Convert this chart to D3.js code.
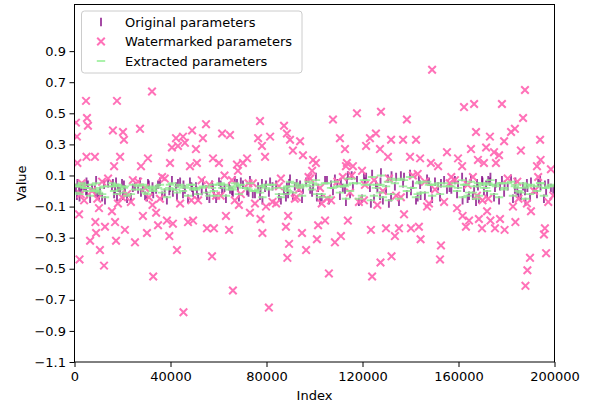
<!DOCTYPE html>
<html>
<head>
<meta charset="utf-8">
<script src="https://cdn.jsdelivr.net/npm/d3@7"></script>
<style>
  body { margin: 0; background: #fff; }
  text { font-family: "DejaVu Sans", sans-serif; }
</style>
</head>
<body>
<svg id="chart" width="595" height="406"></svg>
<script>
// Sampled parameter positions
const indices = [
  600, 1000, 1200, 1900, 2100, 4000, 4800, 5000, 5200, 5600,
  6500, 7300, 8500, 8700, 9000, 10200, 10600, 12300, 12700, 15600,
  16000, 16500, 16900, 17300, 17700, 18100, 19000, 20200, 20600, 21000,
  21900, 25200, 27300, 27700, 28500, 30200, 30600, 32300, 32500, 32800,
  34000, 34800, 38500, 39800, 40600, 41000, 42300, 42700, 43100, 39500,
  45200, 45400, 46000, 47300, 48100, 49000, 49400, 50600, 51000, 51500,
  53500, 54800, 55200, 57300, 57700, 58100, 60200, 61500, 63100, 64400,
  64800, 66000, 67700, 68100, 68500, 70200, 71900, 73100, 75200, 76500,
  77300, 77500, 78100, 78300, 79400, 79800, 81000, 81500, 87300, 88100,
  88500, 88700, 89000, 89400, 89800, 91000, 93500, 94000, 94800, 95200,
  96500, 99000, 99400, 100600, 101000, 101500, 104400, 106000, 106900, 107700,
  108500, 110600, 111000, 112700, 113100, 113500, 113900, 114800, 116000, 117700,
  119800, 121500, 123100, 123500, 124000, 125600, 127300, 127500, 127700, 128500,
  129800, 130600, 131900, 132100, 133500, 135200, 136900, 137300, 138500, 139800,
  140200, 142300, 143500, 144000, 144200, 146900, 148500, 149000, 150200, 151500,
  152300, 152700, 155200, 158500, 159400, 159800, 161500, 161700, 162300, 163100,
  164400, 165200, 166500, 167300, 167700, 168100, 168500, 169800, 170600, 171500,
  171900, 173100, 173300, 174800, 175200, 175600, 176900, 177300, 178100, 179000,
  179200, 181900, 182700, 183500, 183700, 186000, 186900, 187700, 187900, 188500,
  188700, 189800, 190200, 191500, 192700, 194000, 194200, 195600, 196000, 196500,
  198500,
  3000, 9500, 14000, 23500, 26500, 31000, 36500, 44000, 53000, 59000,
  62500, 66800, 72500, 84000, 86000, 91800, 97500, 103000, 109500, 115500,
  118500, 121000, 126200, 131000, 134000, 141000, 146000, 154000, 157000, 163800,
  170000, 180500, 185000, 193200, 199500,
  2600, 11500, 19800, 24300, 29400, 35600, 37600, 48700, 56200, 60900,
  65600, 69300, 74300, 82500, 85200, 92600, 98200, 102300, 105200, 111800,
  120600, 124800, 136000, 143000, 147700, 156300, 166000, 172400, 184500, 197400
];

const original = [
  0.02, -0.03, 0.05, 0.01, -0.04, 0.03, 0.00, 0.06, -0.02, 0.04,
  -0.05, 0.02, 0.01, -0.01, 0.07, -0.03, 0.00, 0.04, -0.06, 0.03,
  0.05, -0.02, 0.01, 0.06, -0.04, 0.02, 0.00, -0.03, 0.04, 0.01,
  -0.05, 0.03, 0.06, -0.01, 0.02, -0.04, 0.05, 0.00, 0.03, -0.02,
  0.01, 0.04, -0.06, 0.02, 0.07, -0.01, 0.03, -0.03, 0.05, 0.00,
  -0.02, 0.04, 0.01, -0.05, 0.06, 0.02, -0.01, 0.03, 0.00, -0.04,
  0.05, 0.01, -0.03, 0.04, 0.02, -0.02, 0.06, 0.00, -0.05, 0.03,
  0.01, -0.01, 0.05, 0.02, -0.04, 0.04, 0.00, 0.07, -0.02, 0.03,
  -0.03, 0.01, 0.05, -0.06, 0.02, 0.04, -0.01, 0.06, 0.00, -0.04,
  0.03, 0.01, -0.02, 0.05, 0.08, -0.03, 0.02, 0.04, -0.05, 0.01,
  0.06, -0.01, 0.03, 0.09, -0.04, 0.02, 0.07, -0.06, 0.04, 0.00,
  0.08, -0.03, 0.05, 0.01, -0.07, 0.06, 0.10, -0.02, 0.03, 0.07,
  -0.05, 0.09, 0.02, -0.08, 0.11, 0.04, -0.03, 0.06, 0.12, -0.06,
  0.01, 0.08, -0.04, 0.10, 0.03, -0.07, 0.05, 0.09, -0.02, 0.11,
  0.00, -0.06, 0.07, 0.04, -0.03, 0.08, 0.02, -0.05, 0.06, 0.03,
  -0.04, 0.05, 0.01, 0.07, -0.02, 0.04, 0.09, -0.06, 0.02, 0.06,
  -0.03, 0.08, 0.01, -0.07, 0.05, 0.03, -0.05, 0.07, 0.00, 0.04,
  -0.02, 0.06, 0.09, -0.04, 0.02, 0.05, -0.06, 0.03, 0.07, -0.01,
  0.04, 0.08, -0.05, 0.01, 0.06, -0.03, 0.03, 0.00, -0.07, 0.05,
  0.02, -0.04, 0.06, 0.01, -0.02, 0.07, 0.03, -0.05, 0.04, 0.00,
  0.02,
  0.03, -0.02, 0.05, -0.04, 0.01, 0.04, -0.03, 0.06, 0.00, -0.05,
  0.02, 0.07, -0.01, 0.04, -0.06, 0.03, 0.08, -0.04, 0.05, 0.10,
  -0.07, 0.06, 0.02, -0.08, 0.09, 0.04, -0.03, 0.07, 0.01, -0.05,
  0.06, 0.03, -0.02, 0.05, 0.01,
  0.01, -0.04, 0.05, 0.02, -0.03, 0.06, -0.01, 0.03, -0.05, 0.04,
  0.00, 0.06, -0.02, 0.03, -0.04, 0.05, 0.01, -0.06, 0.07, 0.02,
  0.09, -0.05, 0.10, -0.04, 0.06, 0.02, -0.03, 0.07, 0.00, 0.05
];

const watermarked = [
  0.44, 0.35, 0.18, -0.15, -0.44, -0.06, 0.58, 0.22, 0.47, 0.42,
  -0.32, 0.00, 0.22, -0.20, -0.27, -0.11, -0.38, -0.48, -0.23, -0.13,
  0.39, 0.16, -0.20, -0.32, 0.58, -0.08, 0.22, 0.38, 0.33, -0.25,
  -0.02, -0.33, 0.40, 0.16, -0.16, -0.27, 0.21, 0.64, -0.09, -0.55,
  -0.14, -0.22, -0.19, 0.18, 0.28, -0.21, 0.34, -0.38, 0.29, -0.29,
  0.35, -0.78, 0.31, -0.20, 0.16, 0.39, -0.19, 0.27, 0.18, -0.06,
  0.34, 0.43, -0.24, -0.42, 0.21, -0.24, 0.18, 0.37, -0.16, -0.25,
  0.36, -0.64, 0.17, 0.13, -0.09, 0.18, 0.21, -0.14, -0.08, 0.34,
  0.45, -0.18, 0.29, -0.27, 0.22, -0.10, -0.75, 0.35, 0.42, -0.23,
  0.37, -0.43, -0.16, -0.34, 0.33, 0.26, 0.01, 0.32, -0.27, 0.23,
  -0.38, 0.13, 0.20, 0.18, -0.31, -0.22, -0.19, -0.53, -0.06, 0.46,
  -0.33, 0.34, -0.29, 0.27, 0.16, 0.18, -0.19, -0.01, 0.16, 0.50,
  0.13, 0.29, 0.34, -0.25, -0.55, 0.37, 0.27, -0.46, 0.51, 0.00,
  -0.24, 0.22, 0.33, -0.42, -0.29, -0.24, 0.33, -0.15, 0.46, 0.22,
  -0.24, 0.33, -0.23, 0.21, -0.31, -0.10, 0.18, 0.78, 0.01, 0.16,
  -0.44, -0.35, 0.25, 0.07, -0.11, 0.21, 0.16, -0.16, 0.54, -0.23,
  -0.19, 0.27, 0.56, 0.38, -0.03, 0.20, -0.18, -0.24, 0.18, 0.28,
  -0.13, 0.35, -0.19, 0.25, -0.24, 0.18, 0.23, -0.18, 0.56, 0.32,
  -0.25, 0.38, -0.10, 0.40, -0.20, 0.26, 0.47, 0.65, -0.61, -0.08,
  -0.51, -0.43, -0.13, 0.00, 0.16, 0.33, 0.20, -0.28, -0.24, -0.40,
  0.14,
  0.05, -0.05, 0.08, -0.07, 0.06, -0.04, 0.09, -0.08, 0.07, -0.03,
  0.10, -0.06, 0.05, -0.08, 0.08, -0.05, 0.09, -0.08, 0.06, 0.10,
  -0.07, 0.04, -0.09, 0.08, -0.03, 0.10, 0.06, -0.07, 0.09, 0.04,
  -0.06, 0.08, -0.05, 0.09, -0.03,
  -0.02, 0.06, -0.04, 0.07, 0.02, -0.05, 0.08, -0.06, 0.04, -0.03,
  0.07, -0.02, 0.05, -0.07, 0.03, -0.04, 0.08, 0.02, -0.05, 0.09,
  -0.06, 0.07, -0.04, 0.11, -0.08, 0.05, 0.09, -0.05, 0.06, -0.07
];

const extracted = [
  0.03, -0.01, 0.04, 0.03, -0.02, 0.02, 0.02, 0.04, 0.00, 0.02,
  -0.03, 0.04, 0.00, 0.01, 0.05, -0.01, 0.02, 0.03, -0.04, 0.05,
  0.03, 0.00, 0.03, 0.04, -0.02, 0.04, 0.01, -0.01, 0.02, 0.03,
  -0.03, 0.01, 0.04, 0.01, 0.04, -0.02, 0.03, 0.02, 0.01, 0.00,
  0.03, 0.02, -0.04, 0.04, 0.05, 0.01, 0.01, -0.01, 0.03, 0.02,
  0.00, 0.02, 0.03, -0.03, 0.04, 0.04, 0.01, 0.01, 0.02, -0.02,
  0.03, 0.03, -0.01, 0.02, 0.04, 0.00, 0.04, 0.02, -0.03, 0.01,
  0.03, 0.01, 0.03, 0.04, -0.02, 0.02, 0.02, 0.05, 0.00, 0.01,
  -0.01, 0.03, 0.03, -0.04, 0.04, 0.02, 0.01, 0.04, 0.02, -0.02,
  0.01, 0.03, 0.00, 0.03, 0.06, -0.01, 0.04, 0.02, -0.03, 0.03,
  0.04, 0.01, 0.05, 0.07, -0.02, 0.04, 0.05, -0.04, 0.02, 0.02,
  0.06, -0.01, 0.03, 0.03, -0.05, 0.04, 0.08, 0.00, 0.05, 0.05,
  -0.03, 0.07, 0.04, -0.06, 0.09, 0.02, -0.01, 0.04, 0.10, -0.04,
  0.03, 0.06, -0.02, 0.08, 0.05, -0.05, 0.03, 0.07, 0.00, 0.09,
  0.02, -0.04, 0.05, 0.06, -0.01, 0.06, 0.04, -0.03, 0.04, 0.05,
  -0.02, 0.03, 0.03, 0.05, 0.00, 0.02, 0.07, -0.04, 0.04, 0.04,
  -0.01, 0.06, 0.03, -0.05, 0.03, 0.05, -0.03, 0.05, 0.02, 0.02,
  0.00, 0.04, 0.07, -0.02, 0.04, 0.03, -0.04, 0.05, 0.05, 0.01,
  0.02, 0.06, -0.03, 0.03, 0.04, -0.01, 0.05, 0.02, -0.05, 0.03,
  0.04, -0.02, 0.04, 0.03, 0.00, 0.05, 0.05, -0.03, 0.02, 0.02,
  0.04,
  0.05, 0.00, 0.03, -0.02, 0.03, 0.02, -0.01, 0.04, 0.02, -0.03,
  0.04, 0.05, 0.01, 0.02, -0.04, 0.05, 0.06, -0.02, 0.03, 0.08,
  -0.05, 0.04, 0.04, -0.06, 0.07, 0.02, -0.01, 0.05, 0.03, -0.03,
  0.04, 0.05, 0.00, 0.03, 0.03,
  0.03, -0.02, 0.03, 0.04, -0.01, 0.04, 0.01, 0.02, -0.03, 0.05,
  0.02, 0.04, 0.00, 0.04, -0.02, 0.03, 0.03, -0.04, 0.05, 0.03,
  0.07, -0.03, 0.08, -0.02, 0.04, 0.03, -0.01, 0.05, 0.02, 0.03
];

const xTicks = [0, 40000, 80000, 120000, 160000, 200000];
const yTicks = [-1.1, -0.9, -0.7, -0.5, -0.3, -0.1, 0.1, 0.3, 0.5, 0.7, 0.9];
const seriesNames = ["Original parameters", "Watermarked parameters", "Extracted parameters"];

const svg = d3.select("#chart");
const plot = { left: 74.5, right: 554.5, top: 4.5, bottom: 362 };

const x = d3.scaleLinear().domain([0, 200000]).range([plot.left, plot.right]);
const y = d3.scaleLinear().domain([-1.1, 1.2]).range([plot.bottom, plot.top]);

svg.append("defs").append("clipPath").attr("id", "plot-clip")
  .append("rect")
  .attr("x", plot.left).attr("y", plot.top)
  .attr("width", plot.right - plot.left).attr("height", plot.bottom - plot.top);

const colors = {
  original: "purple",
  watermarked: "#ff69b4",
  extracted: "#90ee90"
};
const m = 4.2; // half marker size in px

const data = indices.map((idx, i) => ({
  idx, o: original[i], w: watermarked[i], e: extracted[i]
}));

const marks = svg.append("g").attr("clip-path", "url(#plot-clip)");

// Original values: vertical ticks
marks.append("g").selectAll("line").data(data).join("line")
  .attr("x1", d => x(d.idx)).attr("x2", d => x(d.idx))
  .attr("y1", d => y(d.o) - m).attr("y2", d => y(d.o) + m)
  .attr("stroke", colors.original).attr("stroke-opacity", 0.75)
  .attr("stroke-width", 1.9);

// Watermarked values: x markers
const k = m * 0.9;
const xPath = `M${-k},${-k}L${k},${k}M${-k},${k}L${k},${-k}`;
marks.append("g").selectAll("path").data(data).join("path")
  .attr("transform", d => `translate(${x(d.idx)},${y(d.w)})`)
  .attr("d", xPath)
  .attr("fill", "none")
  .attr("stroke", colors.watermarked).attr("stroke-opacity", 0.95)
  .attr("stroke-width", 2);

// Extracted values: horizontal ticks
marks.append("g").selectAll("line").data(data).join("line")
  .attr("x1", d => x(d.idx) - m).attr("x2", d => x(d.idx) + m)
  .attr("y1", d => y(d.e)).attr("y2", d => y(d.e))
  .attr("stroke", colors.extracted).attr("stroke-opacity", 0.8)
  .attr("stroke-width", 1.9);

// Axes
const fmt = d3.format(".1f");
const xAxis = svg.append("g")
  .attr("transform", `translate(0,${plot.bottom})`)
  .call(d3.axisBottom(x).tickValues(xTicks).tickFormat(d3.format("d")).tickSize(5).tickPadding(5));
const yAxis = svg.append("g")
  .attr("transform", `translate(${plot.left},0)`)
  .call(d3.axisLeft(y).tickValues(yTicks).tickFormat(fmt).tickSize(5).tickPadding(3.5));

[xAxis, yAxis].forEach(g => {
  g.select(".domain").remove();
  g.selectAll(".tick line").attr("stroke", "#000").attr("stroke-width", 1);
  g.selectAll(".tick text").attr("fill", "#000")
    .style("font-family", "'DejaVu Sans', sans-serif").style("font-size", "13px");
});

// Frame
svg.append("rect")
  .attr("x", plot.left).attr("y", plot.top)
  .attr("width", plot.right - plot.left).attr("height", plot.bottom - plot.top)
  .attr("fill", "none").attr("stroke", "#000").attr("stroke-width", 1);

// Axis titles
svg.append("text")
  .attr("x", (plot.left + plot.right) / 2).attr("y", 400)
  .attr("text-anchor", "middle").style("font-size", "13px").text("Index");
svg.append("text")
  .attr("transform", `translate(26,${(plot.top + plot.bottom) / 2}) rotate(-90)`)
  .attr("text-anchor", "middle").style("font-size", "13px").text("Value");

// Legend
const legend = svg.append("g");
legend.append("rect")
  .attr("x", 81.5).attr("y", 11).attr("width", 220.5).attr("height", 62)
  .attr("rx", 3).attr("fill", "#fff").attr("fill-opacity", 0.8)
  .attr("stroke", "#cccccc").attr("stroke-width", 1);

const rowY = [22, 41.5, 61];
const mx = 101;
legend.append("line")
  .attr("x1", mx).attr("x2", mx).attr("y1", rowY[0] - m).attr("y2", rowY[0] + m)
  .attr("stroke", colors.original).attr("stroke-opacity", 0.75).attr("stroke-width", 1.9);
legend.append("path")
  .attr("transform", `translate(${mx},${rowY[1]})`).attr("d", xPath)
  .attr("fill", "none").attr("stroke", colors.watermarked).attr("stroke-opacity", 0.95)
  .attr("stroke-width", 2);
legend.append("line")
  .attr("x1", mx - m).attr("x2", mx + m).attr("y1", rowY[2]).attr("y2", rowY[2])
  .attr("stroke", colors.extracted).attr("stroke-opacity", 0.8).attr("stroke-width", 1.9);

legend.selectAll("text.label").data(seriesNames).join("text")
  .attr("class", "label")
  .attr("x", 125).attr("y", (d, i) => rowY[i])
  .attr("dy", "0.36em")
  .style("font-size", "13px").attr("fill", "#000")
  .text(d => d);
</script>
</body>
</html>
